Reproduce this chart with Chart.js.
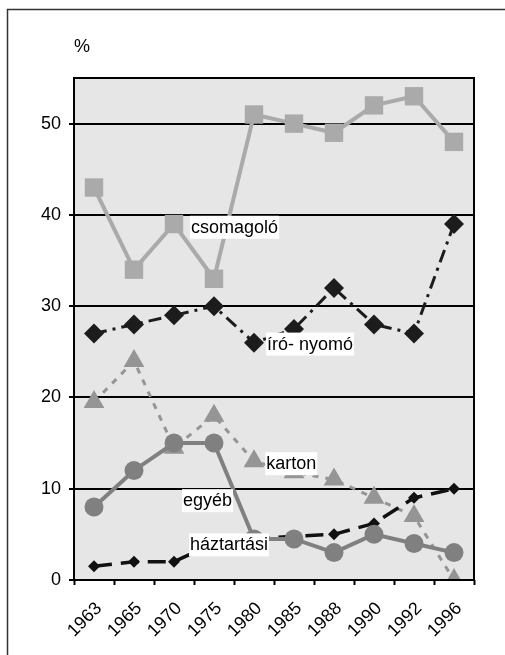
<!DOCTYPE html>
<html lang="hu">
  <head>
    <meta charset="UTF-8" />
    <title>Papír</title>
    <script src="https://cdn.jsdelivr.net/npm/chart.js"></script>
    <style>
      body { margin: 0; background: #fff; }
    </style>
  </head>
  <body>
    <canvas id="myChart" width="505" height="655"></canvas>

    <script>
      // évek
      const years = ["1963", "1965", "1970", "1975", "1980", "1985", "1988", "1990", "1992", "1996"];

      // %-os arányok
      const csomagolo = [43, 34, 39, 33, 51, 50, 49, 52, 53, 48];
      const iroNyomo = [27, 28, 29, 30, 26, 27.5, 32, 28, 27, 39];
      const karton = [19.5, 24, 14.5, 18, 13, 11.8, 11, 9, 7, 0];
      const egyeb = [8, 12, 15, 15, 4.5, 4.5, 3, 5, 4, 3];
      const haztartasi = [1.5, 2, 2, 4, 4.5, 4.8, 5, 6.2, 9, 10];

      const yTicks = [0, 10, 20, 30, 40, 50];

      // feliratok helye (kategória index, érték)
      const seriesLabels = [
        { text: "csomagoló", x: 2.4, y: 38.7 },
        { text: "író- nyomó", x: 4.3, y: 25.9 },
        { text: "karton", x: 4.28, y: 12.8 },
        { text: "egyéb", x: 2.2, y: 8.75 },
        { text: "háztartási", x: 2.375, y: 3.9 },
      ];

      const FONT = "'Liberation Sans', Arial, sans-serif";

      const frame = {
        id: "frame",
        beforeDraw(chart) {
          const { ctx, chartArea: a } = chart;
          ctx.save();
          ctx.strokeStyle = "#333";
          ctx.lineWidth = 1.5;
          ctx.strokeRect(7.5, 9.5, 620, 700);
          ctx.fillStyle = "#e6e6e6";
          ctx.fillRect(a.left, a.top, a.right - a.left, a.bottom - a.top);
          ctx.fillStyle = "#000";
          ctx.font = "18px " + FONT;
          ctx.textBaseline = "alphabetic";
          ctx.fillText("%", a.left, a.top - 26);
          ctx.restore();
        },
        afterDraw(chart) {
          const { ctx, chartArea: a } = chart;
          ctx.save();
          ctx.strokeStyle = "#000";
          ctx.lineWidth = 2;
          ctx.strokeRect(a.left, a.top, a.right - a.left, a.bottom - a.top);
          ctx.restore();
        },
        afterDatasetsDraw(chart) {
          const { ctx, scales } = chart;
          ctx.save();
          ctx.font = "18px " + FONT;
          ctx.textBaseline = "middle";
          for (const l of seriesLabels) {
            const px = scales.x.getPixelForValue(l.x);
            const py = scales.y.getPixelForValue(l.y);
            const w = ctx.measureText(l.text).width;
            ctx.fillStyle = "#fff";
            ctx.fillRect(px, py - 11, w + 2, 23);
            ctx.fillStyle = "#000";
            ctx.fillText(l.text, px + 1, py + 1);
          }
          ctx.restore();
        },
      };

      const data = {
        labels: years,
        datasets: [
          {
            label: "egyéb",
            data: egyeb,
            order: 0,
            borderColor: "#808080",
            backgroundColor: "#808080",
            borderWidth: 4,
            pointStyle: "circle",
            pointRadius: 9.5,
            pointBorderWidth: 0,
          },
          {
            label: "csomagoló",
            data: csomagolo,
            order: 1,
            borderColor: "#aaaaaa",
            backgroundColor: "#aaaaaa",
            borderWidth: 4,
            pointStyle: "rect",
            pointRadius: 13,
            pointBorderWidth: 0,
          },
          {
            label: "író- nyomó",
            data: iroNyomo,
            order: 2,
            borderColor: "#1c1c1c",
            backgroundColor: "#1c1c1c",
            borderWidth: 3,
            borderDash: [13, 6, 3, 6],
            pointStyle: "rectRot",
            pointRadius: 10,
            pointBorderWidth: 0,
          },
          {
            label: "háztartási",
            data: haztartasi,
            order: 3,
            borderColor: "#111",
            backgroundColor: "#111",
            borderWidth: 3.5,
            borderDash: [18, 9],
            pointStyle: "rectRot",
            pointRadius: 6,
            pointBorderWidth: 0,
          },
          {
            label: "karton",
            data: karton,
            order: 4,
            borderColor: "#959595",
            backgroundColor: "#959595",
            borderWidth: 3,
            borderDash: [6, 7],
            pointStyle: "triangle",
            pointRadius: 12,
            pointBorderWidth: 0,
          },
        ],
      };

      const config = {
        type: "line",
        data: data,
        options: {
          responsive: false,
          animation: false,
          devicePixelRatio: 1,
          layout: { padding: { top: 78, right: 31, left: 0, bottom: 0 } },
          elements: { line: { tension: 0 } },
          plugins: {
            legend: { display: false },
            tooltip: { enabled: false },
          },
          scales: {
            x: {
              offset: true,
              afterFit: (s) => { s.height = 75; },
              grid: {
                offset: true,
                drawOnChartArea: false,
                tickLength: 5,
                tickWidth: 2,
                color: "#000",
              },
              border: { display: false },
              ticks: {
                color: "#000",
                font: { size: 18, family: FONT },
                minRotation: 45,
                maxRotation: 45,
                padding: 13,
                labelOffset: 5,
                autoSkip: false,
              },
            },
            y: {
              min: 0,
              max: 55,
              afterFit: (s) => { s.width = 74; },
              afterBuildTicks: (s) => { s.ticks = yTicks.map((v) => ({ value: v })); },
              grid: {
                color: "#000",
                lineWidth: 2,
                tickLength: 5,
              },
              border: { display: false },
              ticks: {
                includeBounds: false,
                color: "#000",
                font: { size: 18, family: FONT },
                padding: 8,
              },
            },
          },
        },
        plugins: [frame],
      };

      const ctx = document.getElementById("myChart");
      new Chart(ctx, config);
    </script>
  </body>
</html>
